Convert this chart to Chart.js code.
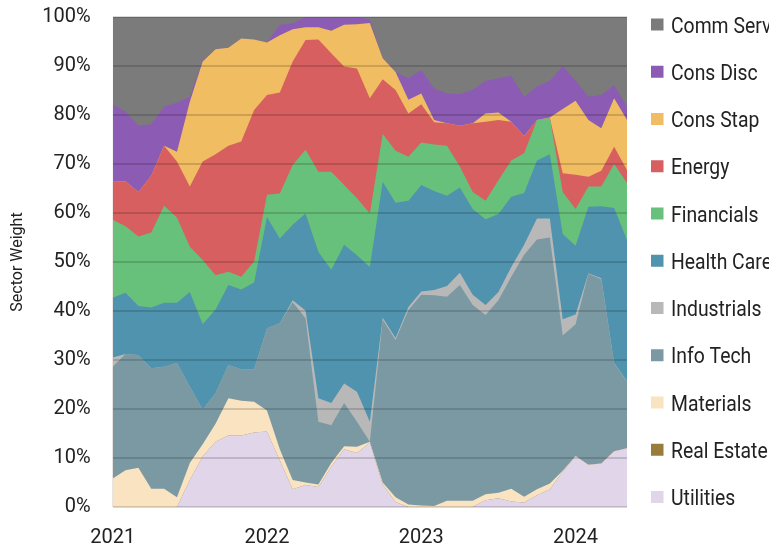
<!DOCTYPE html>
<html>
<head>
<meta charset="utf-8">
<script src="https://cdn.jsdelivr.net/npm/chart.js@4.4.1/dist/chart.umd.min.js"></script>
<style>
  html, body { margin: 0; padding: 0; background: #fff; }
</style>
</head>
<body>
<canvas id="myChart" width="769" height="548"></canvas>
<script>
// month categories (only January gets a year label)
const months = [
  "2021-01", "2021-02", "2021-03", "2021-04", "2021-05", "2021-06", "2021-07", "2021-08", "2021-09", "2021-10", "2021-11", "2021-12",
  "2022-01", "2022-02", "2022-03", "2022-04", "2022-05", "2022-06", "2022-07", "2022-08", "2022-09", "2022-10", "2022-11", "2022-12",
  "2023-01", "2023-02", "2023-03", "2023-04", "2023-05", "2023-06", "2023-07", "2023-08", "2023-09", "2023-10", "2023-11", "2023-12",
  "2024-01", "2024-02", "2024-03", "2024-04", "2024-05",
];

// sector weights in % (bottom of the stack first)
const utilities = [0, 0, 0, 0, 0, 0, 5.5, 10.3, 13.3, 14.6, 14.6, 15.2, 15.4, 9.5, 3.6, 4.5, 4.1, 8.2, 11.8, 11.0, 13.1, 4.6, 1.0, 0, 0, 0, 0, 0, 0, 1.4, 1.8, 1.1, 0.9, 2.4, 3.6, 7.2, 10.4, 8.6, 8.9, 11.4, 12.0];
const realEstate = [0, 0, 0, 0, 0, 0, 0, 0, 0, 0, 0, 0, 0, 0, 0, 0, 0, 0, 0, 0, 0, 0, 0, 0, 0, 0, 0, 0, 0, 0, 0, 0, 0, 0, 0, 0, 0, 0, 0, 0, 0];
const materials = [5.8, 7.5, 8.0, 3.7, 3.7, 2.0, 3.5, 2.5, 3.7, 7.6, 7.1, 6.3, 4.3, 2.3, 1.9, 0.5, 0.5, 0.8, 0.6, 1.3, 0.2, 0.4, 1.0, 0.5, 0.3, 0.2, 1.3, 1.3, 1.3, 1.2, 1.1, 2.6, 1.2, 1.2, 1.2, 0.2, 0, 0, 0, 0, 0];
const infoTech = [22.8, 23.7, 23.0, 24.6, 24.9, 27.4, 15.6, 7.1, 6.2, 6.8, 6.4, 6.6, 16.8, 25.7, 36.3, 33.5, 12.8, 7.7, 8.8, 5.1, 0, 33.2, 32.1, 39.7, 43.0, 43.0, 41.6, 44.0, 39.9, 36.6, 39.3, 43.3, 49.4, 51.0, 50.2, 27.6, 26.9, 39.0, 37.6, 17.9, 13.6];
const industrials = [1.9, 0, 0, 0, 0, 0, 0, 0, 0, 0, 0, 0, 0, 0, 0.4, 1.6, 4.8, 4.5, 4.0, 6.1, 4.1, 0.4, 0.4, 0.6, 0.7, 1.1, 2.2, 2.5, 2.1, 2.0, 1.7, 2.0, 2.0, 4.3, 3.9, 3.3, 2.0, 0.1, 0.2, 0.1, 0.1];
const healthCare = [12.2, 12.5, 10.0, 12.4, 13.1, 12.3, 19.3, 17.4, 17.1, 16.3, 16.3, 17.7, 22.7, 17.3, 15.4, 19.8, 29.9, 27.2, 28.3, 27.9, 31.6, 27.8, 27.6, 21.7, 21.7, 20.2, 18.4, 17.4, 17.5, 17.5, 15.9, 14.3, 10.6, 11.8, 13.1, 17.4, 14.0, 13.6, 14.7, 31.6, 28.8];
const financials = [15.9, 13.6, 14.2, 15.3, 19.8, 17.4, 9.2, 13.1, 7.0, 2.7, 2.6, 4.3, 4.5, 9.2, 12.2, 13.0, 16.3, 20.0, 12.2, 11.6, 10.9, 9.7, 10.6, 9.0, 8.7, 9.5, 10.2, 4.3, 3.5, 3.8, 6.9, 7.4, 8.1, 8.3, 7.4, 8.6, 7.5, 4.1, 4.0, 9.0, 11.6];
const energy = [7.8, 9.2, 9.1, 11.6, 12.2, 11.4, 12.3, 20.1, 24.7, 25.7, 27.6, 30.9, 20.4, 20.6, 21.1, 22.4, 27.0, 24.2, 24.2, 26.5, 23.5, 11.2, 12.4, 8.8, 7.8, 4.5, 4.6, 8.3, 14.0, 16.1, 12.3, 7.9, 3.5, 0, 0, 3.8, 7.0, 2.0, 3.2, 3.5, 2.7];
const consStap = [0, 0, 0, 0, 0, 2.0, 17.3, 20.4, 21.4, 20.0, 21.0, 14.4, 10.7, 11.7, 6.6, 2.6, 2.5, 4.6, 8.5, 9.0, 15.4, 4.3, 3.7, 2.8, 2.2, 0.5, 0, 0, 0, 1.7, 1.5, 0, 0, 0, 0.1, 13.1, 15.1, 11.6, 8.7, 9.9, 10.2];
const consDisc = [15.8, 14.2, 13.5, 10.5, 8.0, 10.0, 1.0, 0.3, 0, 0, 0, 0, 0, 2.1, 1.2, 2.1, 2.1, 2.8, 1.6, 1.5, 0.7, 0, 0, 4.4, 4.8, 6.4, 6.1, 6.5, 6.8, 6.7, 7.0, 9.4, 8.0, 6.8, 7.5, 8.8, 4.1, 4.7, 6.8, 2.7, 2.7];
const commServ = [17.8, 19.3, 22.2, 21.9, 18.3, 17.5, 16.3, 8.8, 6.6, 6.3, 4.4, 4.6, 5.2, 1.6, 1.3, 0, 0, 0, 0, 0, 0.5, 8.4, 11.2, 12.5, 10.8, 14.6, 15.6, 15.7, 14.9, 13.0, 12.5, 12.0, 16.3, 14.2, 13.0, 10.0, 13.0, 16.3, 15.9, 13.9, 18.3];

const FONT = "Roboto, 'DejaVu Sans', sans-serif";

// stack order bottom -> top
const series = [
  { label: "Utilities", data: utilities, color: "#e1d5ea" },
  { label: "Real Estate", data: realEstate, color: "#9b7b3c" },
  { label: "Materials", data: materials, color: "#f9e3c0" },
  { label: "Info Tech", data: infoTech, color: "#7a99a3" },
  { label: "Industrials", data: industrials, color: "#b8b8b8" },
  { label: "Health Care", data: healthCare, color: "#4f93ae" },
  { label: "Financials", data: financials, color: "#68c17b" },
  { label: "Energy", data: energy, color: "#d85f5f" },
  { label: "Cons Stap", data: consStap, color: "#f0bd62" },
  { label: "Cons Disc", data: consDisc, color: "#8c5bb3" },
  { label: "Comm Serv", data: commServ, color: "#7b7b7b" },
];

// legend on the right, top of stack first (text squeezed to look condensed)
const sideLegend = {
  id: "sideLegend",
  afterDraw(chart) {
    const ctx = chart.ctx;
    const items = chart.data.datasets.slice().reverse();
    items.forEach((ds, k) => {
      const cy = 24.5 + k * 47.25;
      ctx.save();
      ctx.fillStyle = ds.backgroundColor;
      ctx.fillRect(651, cy - 6, 12.5, 12);
      ctx.font = "22px " + FONT;
      ctx.textBaseline = "alphabetic";
      ctx.fillStyle = "#222";
      ctx.translate(671, cy + 8);
      ctx.scale(0.88, 1);
      ctx.fillText(ds.label, 0, 0);
      ctx.restore();
    });
  },
};

const ctx = document.getElementById("myChart").getContext("2d");

const myChart = new Chart(ctx, {
  type: "line",
  data: {
    labels: months,
    datasets: series.map((s) => ({
      label: s.label,
      data: s.data,
      backgroundColor: s.color,
      borderColor: "rgba(0,0,0,0)",
      borderWidth: 0,
      pointRadius: 0,
      tension: 0,
      fill: "origin",
    })),
  },
  options: {
    responsive: false,
    animation: false,
    layout: {
      padding: { top: 17, right: 142, left: 0, bottom: 0 },
    },
    plugins: {
      legend: { display: false },
      tooltip: { enabled: false },
    },
    scales: {
      x: {
        offset: false,
        grid: { display: false, drawTicks: true, tickLength: 21 },
        border: { display: false },
        ticks: {
          autoSkip: false,
          maxRotation: 0,
          padding: 0,
          color: "#222",
          font: { family: FONT, size: 20, lineHeight: 1 },
          callback: function (value, index) {
            const m = months[index];
            return m.endsWith("-01") ? m.slice(0, 4) : "";
          },
        },
      },
      y: {
        stacked: true,
        min: 0,
        max: 100,
        grid: {
          color: "rgba(0,0,0,0.15)",
          lineWidth: 2,
          drawTicks: true,
          tickLength: 20,
          tickColor: "rgba(0,0,0,0)",
          z: 1,
        },
        border: { display: false },
        ticks: {
          stepSize: 10,
          padding: 2,
          color: "#222",
          font: { family: FONT, size: 20 },
          callback: (v) => v + "%",
        },
        title: {
          display: true,
          text: "Sector Weight",
          color: "#222",
          font: { family: FONT, size: 16 },
          padding: { top: 8.7, bottom: 12.4 },
        },
      },
    },
  },
  plugins: [sideLegend],
});
</script>
</body>
</html>
